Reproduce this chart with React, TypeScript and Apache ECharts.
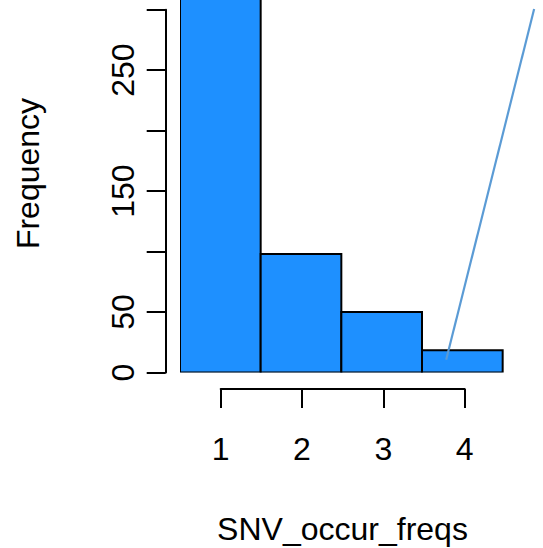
import React, { useEffect, useRef } from "react";
import * as echarts from "echarts";

const binStarts = [0.5, 1.5, 2.5, 3.5];
const binEnds = [1.5, 2.5, 3.5, 4.5];
const frequencies = [400, 98, 50, 18.5];
const xTicks = [1, 2, 3, 4];
const yTickLabels = [0, 50, 150, 250];
const lineX = [3.8, 4.89];
const lineY = [10.5, 300.6];

const FONT = "Liberation Sans, Arial, Helvetica, sans-serif";

export default function App() {
  const ref = useRef<HTMLDivElement>(null);
  useEffect(() => {
    if (!ref.current) return;
    const chart = echarts.init(ref.current, undefined, { renderer: "svg" });
    const bars = binStarts.map((s, i) => [s, binEnds[i], frequencies[i]]);
    chart.setOption({
      animation: false,
      backgroundColor: "#ffffff",
      grid: [
        { left: 180, top: 0, width: 366, height: 372.5 },
        { left: 220.67, top: 388, width: 244, height: 1 },
        { left: 165.7, top: 9.7, width: 1, height: 362.8 },
      ],
      xAxis: [
        { type: "value", gridIndex: 0, min: 0.5, max: 5, show: false },
        {
          type: "value",
          gridIndex: 1,
          min: 1,
          max: 4,
          interval: 1,
          position: "bottom",
          axisLine: { show: true, lineStyle: { color: "#000", width: 2 } },
          axisTick: { show: true, length: 19, lineStyle: { color: "#000", width: 2 } },
          axisLabel: {
            show: true,
            customValues: xTicks,
            margin: 44,
            fontSize: 32,
            fontFamily: FONT,
            color: "#000",
          },
          splitLine: { show: false },
        },
        { type: "value", gridIndex: 2, show: false, min: 0, max: 1 },
      ],
      yAxis: [
        { type: "value", gridIndex: 0, min: 0, max: 308, show: false },
        { type: "value", gridIndex: 1, show: false, min: 0, max: 1 },
        {
          type: "value",
          gridIndex: 2,
          min: 0,
          max: 300,
          interval: 50,
          position: "left",
          axisLine: { show: true, lineStyle: { color: "#000", width: 2 } },
          axisTick: { show: true, length: 19, lineStyle: { color: "#000", width: 2 } },
          axisLabel: {
            show: true,
            customValues: yTickLabels,
            rotate: 90,
            margin: 43,
            fontSize: 32,
            fontFamily: FONT,
            color: "#000",
            align: "center",
            verticalAlign: "middle",
          },
          splitLine: { show: false },
        },
      ],
      graphic: [
        {
          type: "text",
          x: 342.5,
          y: 528.5,
          style: {
            text: "SNV_occur_freqs",
            fontSize: 32,
            fontFamily: FONT,
            fill: "#000",
            align: "center",
            verticalAlign: "middle",
          },
        },
        {
          type: "text",
          x: 28,
          y: 173.5,
          rotation: Math.PI / 2,
          style: {
            text: "Frequency",
            fontSize: 32,
            fontFamily: FONT,
            fill: "#000",
            align: "center",
            verticalAlign: "middle",
          },
        },
      ],
      series: [
        {
          type: "custom",
          xAxisIndex: 0,
          yAxisIndex: 0,
          clip: true,
          data: bars,
          renderItem: (params: any, api: any) => {
            const p0 = api.coord([api.value(0), 0]);
            const p1 = api.coord([api.value(1), api.value(2)]);
            return {
              type: "rect",
              shape: { x: p0[0], y: p1[1], width: p1[0] - p0[0], height: p0[1] - p1[1] },
              style: { fill: "#1E90FF", stroke: "#000", lineWidth: 2 },
            };
          },
        },
        {
          type: "line",
          xAxisIndex: 0,
          yAxisIndex: 0,
          clip: false,
          symbol: "none",
          data: lineX.map((x, i) => [x, lineY[i]]),
          lineStyle: { color: "#5B9BD5", width: 2.2 },
        },
      ],
    });
    return () => chart.dispose();
  }, []);
  return <div ref={ref} style={{ width: 543, height: 548, position: "absolute", left: 0, top: 0 }} />;
}
